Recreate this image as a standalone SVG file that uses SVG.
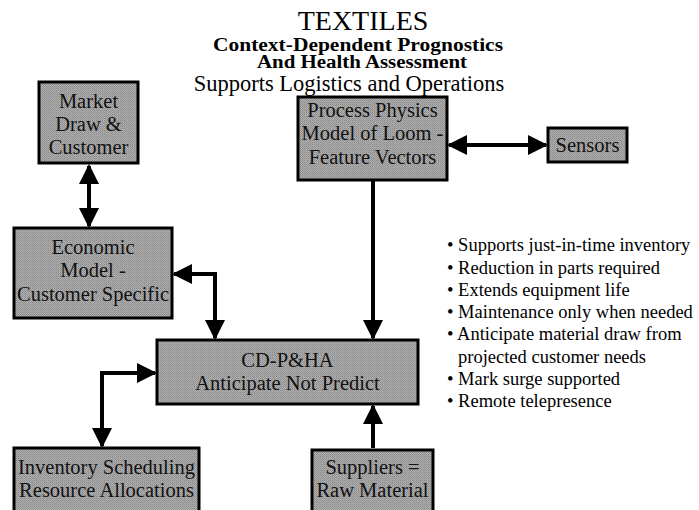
<svg xmlns="http://www.w3.org/2000/svg" width="699" height="510" viewBox="0 0 699 510">
  <defs>
    <pattern id="dither" width="2" height="2" patternUnits="userSpaceOnUse">
      <rect width="2" height="2" fill="#b0b0b0"/>
      <rect width="1" height="1" fill="#888"/>
      <rect x="1" y="1" width="1" height="1" fill="#969696"/>
    </pattern>
    <marker id="head" viewBox="0 0 10 10" refX="9" refY="5" markerWidth="5" markerHeight="5" orient="auto-start-reverse" markerUnits="strokeWidth">
      <path d="M0,0 L10,5 L0,10 Z" fill="#000"/>
    </marker>
  </defs>
  <style>
    .box { fill: url(#dither); stroke: #000; stroke-width: 3; }
    .lbl { font-family: "Liberation Serif", "Times New Roman", serif; font-size: 20.5px; fill: #111; text-anchor: middle; }
    .title { font-family: "Liberation Serif", "Times New Roman", serif; fill: #000; text-anchor: middle; }
    .bullet { font-family: "Liberation Serif", "Times New Roman", serif; font-size: 18.5px; fill: #000; }
    .conn { fill: none; stroke: #000; stroke-width: 4; marker-end: url(#head); }
    .conn2 { fill: none; stroke: #000; stroke-width: 4; marker-start: url(#head); marker-end: url(#head); }
  </style>
  <rect width="699" height="510" fill="#fff"/>

  <!-- Heading -->
  <g id="heading">
    <text class="title" x="363" y="30" font-size="28">TEXTILES</text>
    <text class="title" x="358" y="51" font-size="18.5" font-weight="bold" textLength="290" lengthAdjust="spacingAndGlyphs">Context-Dependent Prognostics</text>
    <text class="title" x="362" y="68" font-size="18.5" font-weight="bold" textLength="210" lengthAdjust="spacingAndGlyphs">And Health Assessment</text>
    <text class="title" x="349" y="91" font-size="22.5">Supports Logistics and Operations</text>
  </g>

  <!-- Connectors -->
  <g id="connectors">
    <line class="conn2" x1="89" y1="166" x2="89" y2="226"/>
    <line class="conn2" x1="449" y1="145" x2="546" y2="145"/>
    <polyline class="conn2" points="174,274 215,274 215,338"/>
    <line class="conn" x1="373" y1="180" x2="373" y2="338"/>
    <polyline class="conn2" points="155,373 102,373 102,446"/>
    <line class="conn" x1="373" y1="448" x2="373" y2="406"/>
  </g>

  <!-- Nodes -->
  <g id="market">
    <rect class="box" x="39" y="82" width="99" height="81"/>
    <text class="lbl" x="88.5" y="108">Market</text>
    <text class="lbl" x="88.5" y="131">Draw &amp;</text>
    <text class="lbl" x="88.5" y="154">Customer</text>
  </g>
  <g id="process">
    <rect class="box" x="298" y="97" width="149" height="83"/>
    <text class="lbl" x="372.5" y="117">Process Physics</text>
    <text class="lbl" x="372.5" y="140">Model of Loom -</text>
    <text class="lbl" x="372.5" y="164">Feature Vectors</text>
  </g>
  <g id="sensors">
    <rect class="box" x="548" y="128" width="79" height="34"/>
    <text class="lbl" x="587.5" y="152">Sensors</text>
  </g>
  <g id="economic">
    <rect class="box" x="14" y="228" width="158" height="90"/>
    <text class="lbl" x="93" y="254">Economic</text>
    <text class="lbl" x="93" y="277">Model -</text>
    <text class="lbl" x="93" y="301">Customer Specific</text>
  </g>
  <g id="cdpha">
    <rect class="box" x="157" y="340" width="261" height="64"/>
    <text class="lbl" x="287.5" y="367">CD-P&amp;HA</text>
    <text class="lbl" x="287.5" y="390">Anticipate Not Predict</text>
  </g>
  <g id="inventory">
    <rect class="box" x="14" y="448" width="185" height="66"/>
    <text class="lbl" x="106.5" y="474">Inventory Scheduling</text>
    <text class="lbl" x="106.5" y="497">Resource Allocations</text>
  </g>
  <g id="suppliers">
    <rect class="box" x="312" y="450" width="121" height="64"/>
    <text class="lbl" x="372.5" y="474">Suppliers =</text>
    <text class="lbl" x="372.5" y="497">Raw Material</text>
  </g>

  <!-- Benefits list -->
  <g id="benefits" class="bullet">
    <text x="447" y="251">• Supports just-in-time inventory</text>
    <text x="447" y="274">• Reduction in parts required</text>
    <text x="447" y="296">• Extends equipment life</text>
    <text x="447" y="318">• Maintenance only when needed</text>
    <text x="447" y="340">• Anticipate material draw from</text>
    <text x="458" y="363">projected customer needs</text>
    <text x="447" y="385">• Mark surge supported</text>
    <text x="447" y="407">• Remote telepresence</text>
  </g>
</svg>
